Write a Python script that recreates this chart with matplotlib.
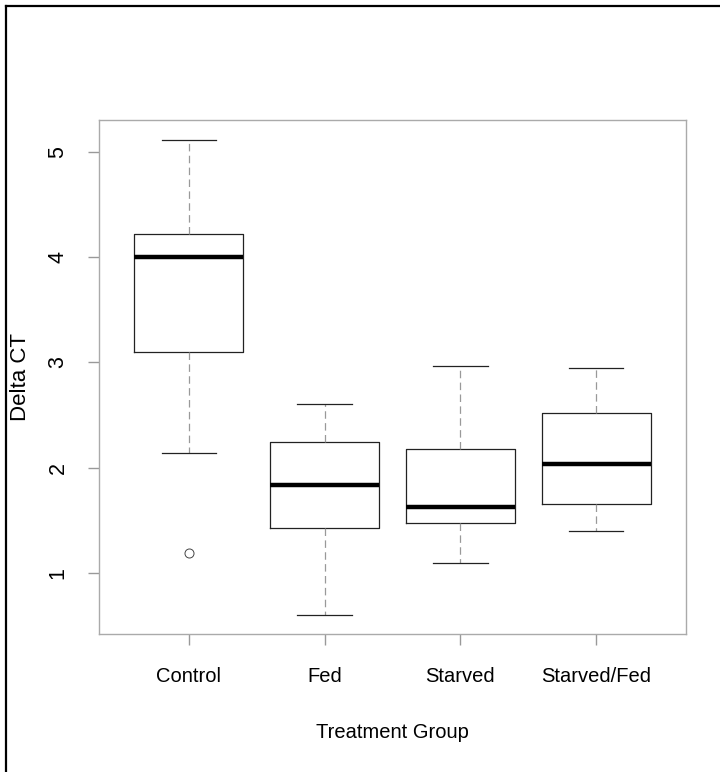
import matplotlib
matplotlib.use('Agg')
import matplotlib.pyplot as plt
from matplotlib.lines import Line2D

# five-number summaries
groups = ['Control', 'Fed', 'Starved', 'Starved/Fed']
whisker_lo = [2.14, 0.60, 1.09, 1.40]
q1 = [3.10, 1.43, 1.47, 1.65]
medians = [4.00, 1.83, 1.63, 2.03]
q3 = [4.22, 2.24, 2.18, 2.52]
whisker_hi = [5.11, 2.60, 2.96, 2.95]
outliers = [[1.19], [], [], []]

yticks = [1, 2, 3, 4, 5]

plt.rcParams['font.family'] = ['Liberation Sans', 'DejaVu Sans']

fig = plt.figure(figsize=(7.2, 7.72), dpi=100)
ax = fig.add_axes([99 / 720, 1 - 634 / 772, (686 - 99) / 720, (634 - 120) / 772])

stats = []
for i in range(len(groups)):
    stats.append({
        'label': groups[i],
        'whislo': whisker_lo[i],
        'q1': q1[i],
        'med': medians[i],
        'q3': q3[i],
        'whishi': whisker_hi[i],
        'fliers': outliers[i],
    })

positions = list(range(1, len(groups) + 1))
ax.bxp(stats, positions=positions, widths=0.8, showfliers=True,
       boxprops=dict(color='#222222', linewidth=0.9),
       medianprops=dict(color='black', linewidth=3.2, solid_capstyle='butt'),
       whiskerprops=dict(color='#999999', linewidth=0.9, linestyle=(0, (6, 3.5))),
       capprops=dict(color='#222222', linewidth=0.9),
       capwidths=0.4,
       flierprops=dict(marker='o', markerfacecolor='white', markeredgecolor='#444444',
                       markersize=6.5, markeredgewidth=0.7, linestyle='none'))

ax.set_xlim(0.34, 4.66)
ax.set_ylim(0.42, 5.30)

for sp in ax.spines.values():
    sp.set_color('#aaaaaa')
    sp.set_linewidth(1.0)

ax.set_yticks(yticks)
ax.set_yticklabels([str(v) for v in yticks], rotation=90, va='center', fontsize=15.5)
ax.set_xticks(positions)
ax.set_xticklabels(groups, fontsize=14.5)
ax.tick_params(axis='both', color='#999999', length=8, width=1.0)
ax.tick_params(axis='y', pad=14)
ax.tick_params(axis='x', pad=16)

ax.set_ylabel('Delta CT', fontsize=16)
ax.yaxis.set_label_coords(-(99 - 20) / 587, 0.5)
ax.set_xlabel('Treatment Group', fontsize=14.5)
ax.xaxis.set_label_coords(0.5, -(733 - 634) / 514)
ax.xaxis.label.set_va('center')
ax.yaxis.label.set_va('center')

# outer frame (left and top edges visible in the reference)
fig.add_artist(Line2D([5.5 / 720, 5.5 / 720], [0, 1 - 5.5 / 772], color='black', linewidth=1.6,
                      transform=fig.transFigure))
fig.add_artist(Line2D([5.5 / 720, 1], [1 - 5.5 / 772, 1 - 5.5 / 772], color='black', linewidth=1.6,
                      transform=fig.transFigure))

fig.savefig('out.png', dpi=100)
